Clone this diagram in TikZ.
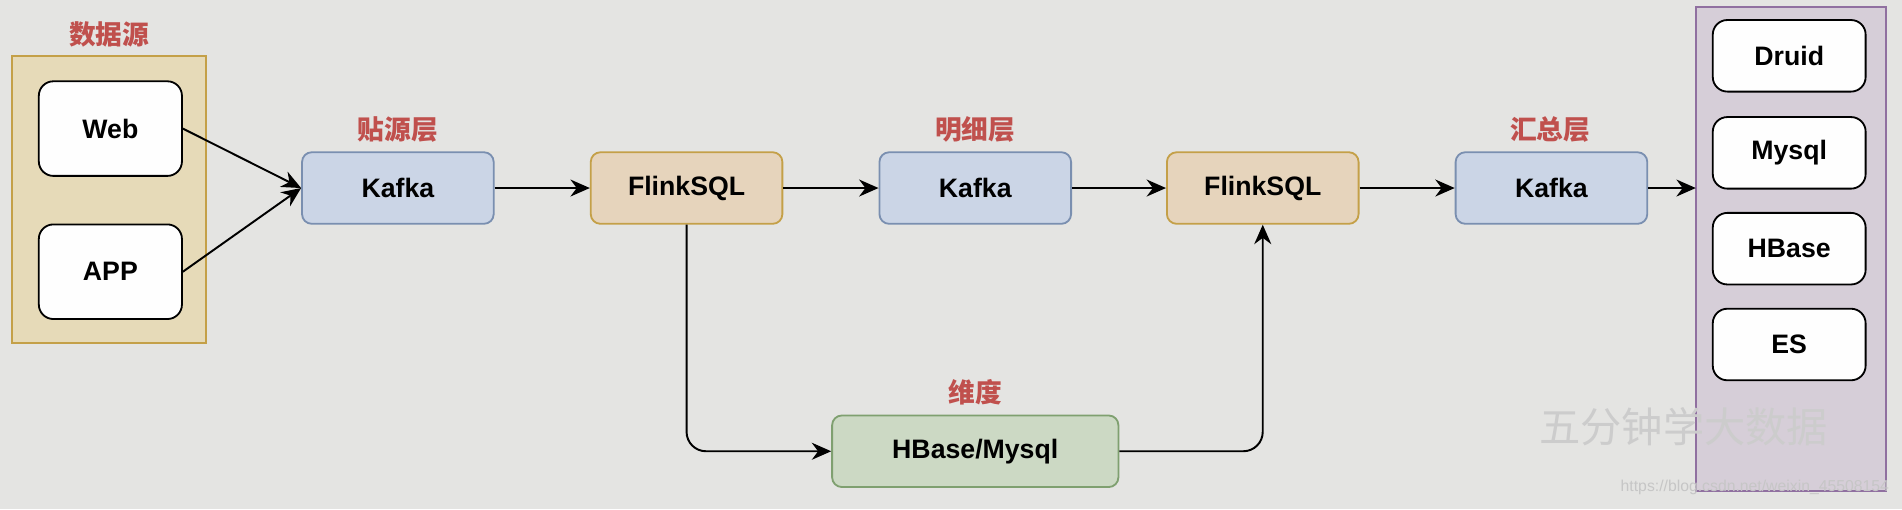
\documentclass[tikz,border=0pt]{standalone}
\usepackage{fontspec}
\setmainfont{Liberation Sans}
\newfontfamily\cjk{Noto Sans CJK SC}
\usetikzlibrary{arrows.meta}
\definecolor{bg}{HTML}{E4E4E2}
\definecolor{lblred}{HTML}{C0504D}
\definecolor{kafkafill}{HTML}{CBD5E6}
\definecolor{kafkaline}{HTML}{7A8FB0}
\definecolor{flinkfill}{HTML}{E6D4BC}
\definecolor{flinkline}{HTML}{C4A048}
\definecolor{grpfill}{HTML}{E6DAB8}
\definecolor{sinkfill}{HTML}{D6CED8}
\definecolor{sinkline}{HTML}{9070A0}
\definecolor{dimfill}{HTML}{CCD9C4}
\definecolor{dimline}{HTML}{7FA070}
\tikzset{every picture/.style={line width=0.75pt}}
\tikzset{
  box/.style={draw, rounded corners=4pt, minimum width=79pt, minimum height=29.5pt, font=\fontsize{11}{13}\selectfont\bfseries, inner sep=0pt},
  kafka/.style={box, fill=kafkafill, draw=kafkaline},
  flink/.style={box, fill=flinkfill, draw=flinkline},
  white box/.style={box, fill=white!95!bg, draw=black, minimum width=59pt, rounded corners=6pt},
  lbl/.style={font=\cjk\fontsize{11}{13}\selectfont\bfseries, text=lblred},
  arr/.style={-{Stealth[length=8pt,width=7pt]}, line width=0.8pt}
}
\begin{document}
\begin{tikzpicture}[x=0.5pt,y=0.5pt,yscale=-1]
	\fill[bg] (0,0) rectangle (1568,420);
	\useasboundingbox (0,0) rectangle (1568,420);

	% groups
	\draw[fill=grpfill, draw=flinkline] (10,46) rectangle (170,283);
	\draw[fill=sinkfill, draw=sinkline] (1398,6) rectangle (1555,405);

	% nodes
	\node[white box, minimum height=39pt] (web) at (91,106) {Web};
	\node[white box, minimum height=39pt] (app) at (91,224) {APP};
	\node[kafka] (kafka1) at (328,155) {Kafka};
	\node[flink] (flink1) at (566,155) {FlinkSQL};
	\node[kafka] (kafka2) at (804,155) {Kafka};
	\node[flink] (flink2) at (1041,155) {FlinkSQL};
	\node[kafka] (kafka3) at (1279,155) {Kafka};
	\node[box, fill=dimfill, draw=dimline, minimum width=118pt] (dim) at (804,372) {HBase/Mysql};
	\node[white box, minimum width=63pt] (druid) at (1475,46) {Druid};
	\node[white box, minimum width=63pt] (mysql) at (1475,126) {Mysql};
	\node[white box, minimum width=63pt] (hbase) at (1475,205) {HBase};
	\node[white box, minimum width=63pt] (es) at (1475,284) {ES};
	\coordinate (sink) at (1398,155);

	% labels
	\node[lbl] at (90,28) {数据源};
	\node[lbl] at (328,107) {贴源层};
	\node[lbl] at (804,107) {明细层};
	\node[lbl] at (1278,107) {汇总层};
	\node[lbl] at (804,323) {维度};

	% connectors
	\draw[arr] (web.east) -- (kafka1.west);
	\draw[arr] (app.east) -- (kafka1.west);
	\draw[arr] (kafka1) -- (flink1);
	\draw[arr] (flink1) -- (kafka2);
	\draw[arr] (kafka2) -- (flink2);
	\draw[arr] (flink2) -- (kafka3);
	\draw[arr] (kafka3) -- (sink);
	\draw[arr, rounded corners=8pt] (flink1.south) |- (dim.west);
	\draw[arr, rounded corners=8pt] (dim.east) -| (flink2.south);

	% watermark
	\node[font=\cjk\fontsize{17}{19}\selectfont, text=white!60!gray] at (1388,352) {五分钟学大数据};
	\node[font=\fontsize{6.5}{8}\selectfont, text=white!55!gray, anchor=east, inner sep=1pt] at (1560,402) {https://blog.csdn.net/weixin\_45508154};
\end{tikzpicture}
\end{document}
